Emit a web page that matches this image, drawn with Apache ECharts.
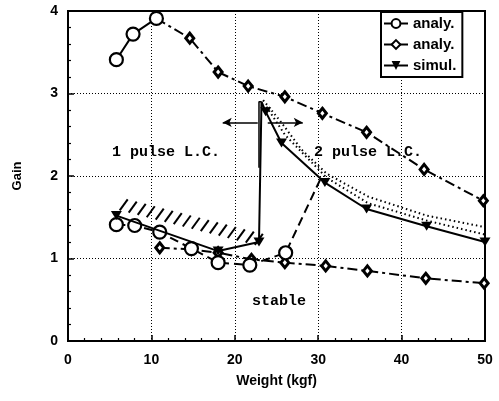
<!DOCTYPE html>
<html><head><meta charset="utf-8">
<script src="https://cdn.jsdelivr.net/npm/echarts@6/dist/echarts.min.js"></script>
<style>html,body{margin:0;padding:0;background:#fff}#c{width:499px;height:401px}</style>
</head><body><div id="c"></div>
<script>
// ---- data ----
const xTicks = [0,10,20,30,40,50];
const yTicks = [0,1,2,3,4];
// open-circle analytical curve (upper and lower branches)
const circUpX = [5.8, 7.8, 10.6];
const circUpY = [3.41, 3.72, 3.91];
const circLoX = [5.8, 8.0, 11.0, 14.8, 18.0, 21.8, 26.1, 30.3];
const circLoY = [1.41, 1.40, 1.32, 1.12, 0.95, 0.92, 1.07, 1.97];
const circLoMark = [1,1,1,1,1,1,1,0];
// filled-diamond analytical curve
const diaUpX = [10.6, 14.6, 18.0, 21.6, 26.0, 30.5, 35.8, 42.7, 49.8];
const diaUpY = [3.91, 3.67, 3.26, 3.09, 2.96, 2.76, 2.53, 2.08, 1.70];
const diaUpMark = [0,1,1,1,1,1,1,1,1];
const diaLoX = [11.0, 14.8, 18.0, 22.0, 26.0, 30.9, 35.9, 42.9, 49.9];
const diaLoY = [1.13, 1.11, 1.07, 0.99, 0.95, 0.91, 0.85, 0.76, 0.70];
// simulation
const simX = [5.8, 18.0, 22.9, 23.2, 23.7, 25.6, 30.8, 35.8, 43.0, 50.0];
const simY = [1.52, 1.09, 1.20, 2.90, 2.78, 2.40, 1.92, 1.60, 1.39, 1.20];
const simMark = [1,1,1,0,1,1,1,1,1,1];
const simEdgeX = [22.9, 22.9, 23.2];
const simEdgeY = [2.10, 2.90, 2.90];
// dotted band (2 pulse region)
const band1X = [23.4, 25.5, 28.0, 31.0, 36.0, 43.0, 50.0];
const band1Y = [2.92, 2.66, 2.32, 2.03, 1.75, 1.52, 1.38];
const band2X = [23.8, 26.0, 31.0, 36.0, 43.0, 50.0];
const band2Y = [2.84, 2.50, 1.98, 1.67, 1.46, 1.29];
// hatched boundary (1 pulse region)
const hatchX = [6.2, 22.4];
const hatchY = [1.56, 1.14];
// arrows
const arrowY = 2.65;
const arrowLeft = [22.75, 18.55];
const arrowRight = [23.95, 28.15];

const pairs = (xs, ys) => xs.map((x, i) => [x, ys[i]]);
const withMarks = (xs, ys, m) => xs.map((x, i) => m[i] ? [x, ys[i]] : {value:[x, ys[i]], symbol:'none'});

const FONT = 'Liberation Sans, Arial, sans-serif';
const MONO = 'Liberation Mono, DejaVu Sans Mono, monospace';
const circleStyle = {color:'#fff', borderColor:'#000', borderWidth:2.2};
const diaStyle = {color:'#fff', borderColor:'#000', borderWidth:3};
const triPath = 'path://M0,0 L10,0 L5,8 Z';

const chart = echarts.init(document.getElementById('c'));
chart.setOption({
  animation:false,
  backgroundColor:'#fff',
  grid:{left:68, right:14, top:11, bottom:60, show:true, borderColor:'#000', borderWidth:2, backgroundColor:'transparent'},
  xAxis:{type:'value', min:0, max:50, interval:10,
    name:'Weight (kgf)', nameLocation:'middle', nameGap:33,
    nameTextStyle:{fontFamily:FONT, fontWeight:'bold', fontSize:14, color:'#000'},
    axisLine:{lineStyle:{color:'#000', width:2}},
    axisTick:{inside:true, length:6, lineStyle:{color:'#000', width:1.5}},
    minorTick:{show:true, splitNumber:5, length:3, lineStyle:{color:'#000', width:1.2}},
    axisLabel:{fontFamily:FONT, fontWeight:'bold', fontSize:14, color:'#000', margin:12, formatter:v=>xTicks.includes(v)?String(v):''},
    splitLine:{show:true, lineStyle:{color:'#000', type:[1,2], width:1}}},
  yAxis:{type:'value', min:0, max:4, interval:1,
    name:'Gain', nameLocation:'middle', nameGap:44, nameRotate:90,
    nameTextStyle:{fontFamily:FONT, fontWeight:'bold', fontSize:13, color:'#000'},
    axisLine:{show:true, lineStyle:{color:'#000', width:2}},
    axisTick:{show:true, inside:true, length:6, lineStyle:{color:'#000', width:1.5}},
    minorTick:{show:true, splitNumber:5, length:3, lineStyle:{color:'#000', width:1.2}},
    axisLabel:{fontFamily:FONT, fontWeight:'bold', fontSize:14, color:'#000', margin:10, formatter:v=>yTicks.includes(v)?String(v):''},
    splitLine:{show:true, lineStyle:{color:'#000', type:[1,2], width:1}}},
  legend:{data:['analyO','analyD','simul'], orient:'vertical', left:381, top:12,
    itemWidth:24, itemHeight:11, itemGap:6, padding:[4,6,4,2],
    backgroundColor:'#fff', borderColor:'#000', borderWidth:2,
    formatter:n=>n==='simul'?'simul.':'analy.',
    textStyle:{fontFamily:FONT, fontWeight:'bold', fontSize:15, color:'#000'},
    lineStyle:{type:'solid', width:2, color:'#000'}},
  series:[
    {type:'custom', name:'hatch', silent:true, z:1, data:[0],
      renderItem:(params, api)=>{
        const a = api.coord([hatchX[0], hatchY[0]]);
        const b = api.coord([hatchX[1], hatchY[1]]);
        const dx = b[0]-a[0], dy = b[1]-a[1];
        const len = Math.hypot(dx, dy);
        const n = Math.floor(len/9);
        const ch = [];
        for (let i=0;i<=n;i++){
          const t = i/n;
          const px = a[0]+dx*t, py = a[1]+dy*t-2;
          ch.push({type:'line', shape:{x1:px, y1:py, x2:px+8, y2:py-11}, style:{stroke:'#000', lineWidth:2}});
        }
        return {type:'group', children:ch};
      }},
    {type:'line', name:'band1', data:pairs(band1X, band1Y), symbol:'none', z:2,
      lineStyle:{color:'#000', width:2, type:[1.5,3]}},
    {type:'line', name:'band2', data:pairs(band2X, band2Y), symbol:'none', z:2,
      lineStyle:{color:'#000', width:2, type:[1.5,3]}},
    {type:'line', name:'analyD', data:withMarks(diaUpX, diaUpY, diaUpMark), symbol:'diamond', symbolSize:[8,10], z:3,
      lineStyle:{color:'#000', width:2, type:[10,4,3,4]}, itemStyle:diaStyle},
    {type:'line', name:'analyD', data:pairs(diaLoX, diaLoY), symbol:'diamond', symbolSize:[8,10], z:3,
      lineStyle:{color:'#000', width:2, type:[10,4,3,4]}, itemStyle:diaStyle},
    {type:'line', name:'analyO', data:pairs(circUpX, circUpY), symbol:'circle', symbolSize:13, z:4,
      lineStyle:{color:'#000', width:2, type:'solid'}, itemStyle:circleStyle},
    {type:'line', name:'analyO', data:withMarks(circLoX, circLoY, circLoMark), symbol:'circle', symbolSize:13, z:4,
      lineStyle:{color:'#000', width:2, type:[9,5]}, itemStyle:circleStyle},
    {type:'line', name:'simul', data:withMarks(simX, simY, simMark), symbol:triPath, symbolSize:[11,9], z:5,
      lineStyle:{color:'#000', width:2, type:'solid'}, itemStyle:{color:'#000'}},
    {type:'line', name:'simEdge', data:pairs(simEdgeX, simEdgeY), symbol:'none', z:5,
      lineStyle:{color:'#000', width:1.5, type:'solid'}},
    {type:'line', name:'arrows', data:[], z:5,
      markLine:{silent:true, symbol:['none','arrow'], symbolSize:[7,9], animation:false,
        label:{show:false}, lineStyle:{color:'#000', width:1.5, type:'solid'},
        data:[[{coord:[arrowLeft[0], arrowY]},{coord:[arrowLeft[1], arrowY]}],
              [{coord:[arrowRight[0], arrowY]},{coord:[arrowRight[1], arrowY]}]]}}
  ],
  graphic:[
    {type:'text', left:112, top:145, style:{text:'1 pulse L.C.', fontFamily:MONO, fontWeight:'bold', fontSize:15, fill:'#000'}},
    {type:'text', left:314, top:145, style:{text:'2 pulse L.C.', fontFamily:MONO, fontWeight:'bold', fontSize:15, fill:'#000'}},
    {type:'text', left:252, top:294, style:{text:'stable', fontFamily:MONO, fontWeight:'bold', fontSize:15, fill:'#000'}}
  ]
});
</script></body></html>
